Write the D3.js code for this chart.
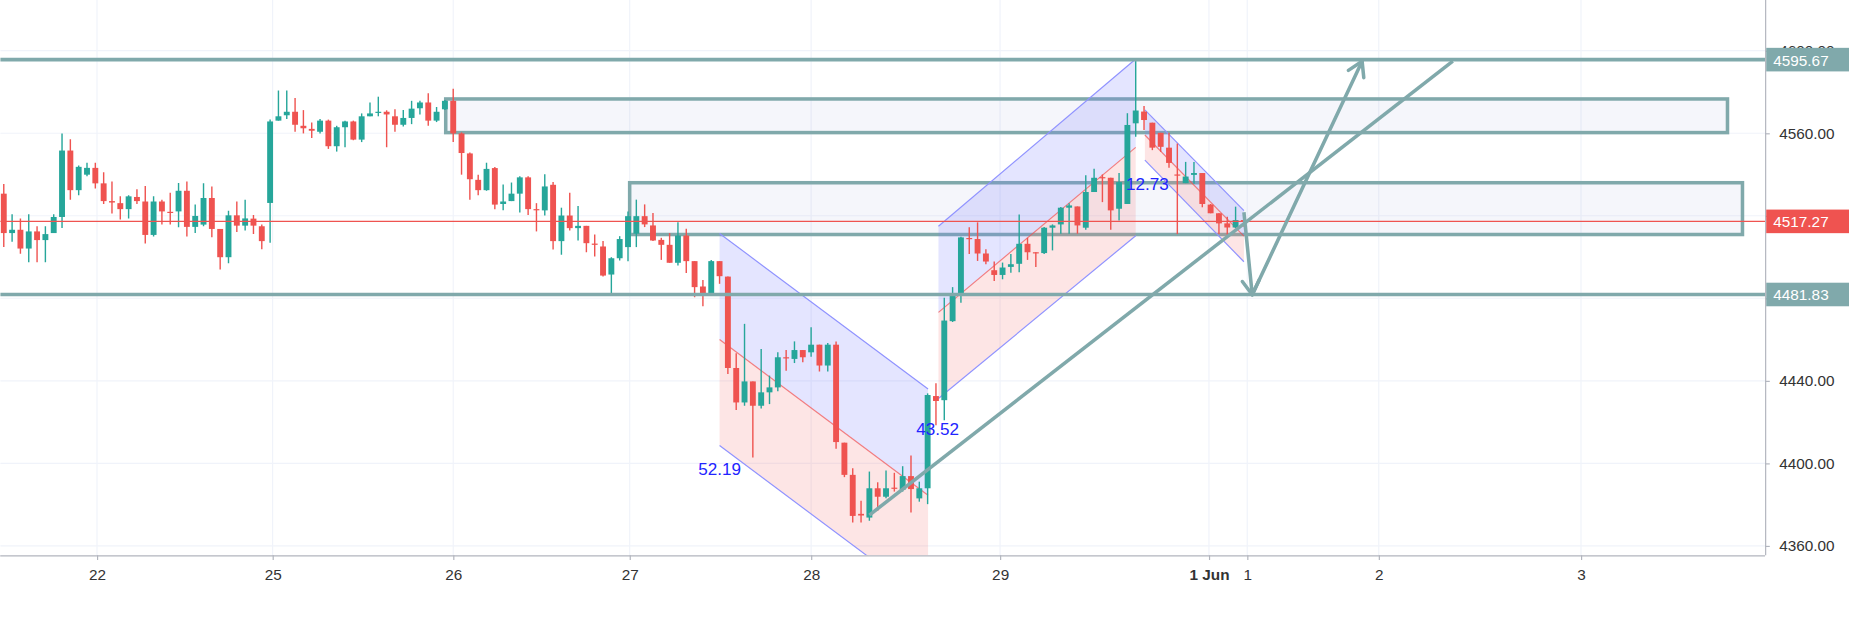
<!DOCTYPE html>
<html><head><meta charset="utf-8">
<script src="https://cdn.jsdelivr.net/npm/d3@7/dist/d3.min.js"></script>
<style>body{margin:0;background:#fff}svg{display:block}</style></head>
<body><svg id="c"></svg>
<script>
// Hourly candles [open, high, low, close]
const candles = [
[4530.7,4535.4,4504.9,4511.6],[4511.6,4520.7,4507.4,4513.2],[4513.2,4518.7,4501.6,4504.1],[4504.1,4520.7,4497.4,4512.4],
[4512.4,4514.9,4497.4,4508.2],[4508.2,4514.9,4497.4,4511.1],[4511.6,4520.7,4511.6,4519.4],[4519.4,4559.9,4514.1,4551.6],
[4551.6,4557.1,4527.7,4532.4],[4532.4,4544.4,4529.9,4543.7],[4539.9,4545.7,4539.1,4543.2],[4543.2,4545.7,4533.2,4535.7],
[4535.7,4541.1,4525.7,4527.1],[4527.1,4536.6,4521.1,4526.4],[4526.1,4529.4,4518.2,4523.2],[4523.2,4529.9,4518.7,4529.4],
[4529.1,4532.9,4525.7,4527.1],[4526.9,4534.4,4506.6,4510.7],[4510.7,4529.4,4509.9,4526.9],[4526.9,4527.7,4515.7,4522.1],
[4521.9,4531.2,4515.7,4521.6],[4522.1,4535.9,4514.4,4532.1],[4532.1,4536.6,4509.9,4514.6],[4514.6,4525.4,4511.6,4519.9],
[4515.7,4535.7,4514.9,4528.6],[4528.6,4534.2,4509.6,4513.6],[4513.6,4513.6,4494.0,4499.9],[4499.9,4522.4,4497.0,4520.2],
[4520.2,4526.9,4512.1,4515.2],[4515.2,4527.7,4512.9,4518.7],[4518.6,4520.4,4511.2,4515.2],[4514.9,4515.7,4503.7,4507.7],
[4526.2,4566.6,4506.9,4565.7],[4566.1,4580.7,4566.1,4568.2],[4568.7,4580.7,4566.9,4570.4],[4570.4,4577.1,4560.7,4564.1],
[4563.6,4571.2,4559.9,4562.4],[4562.1,4565.2,4557.7,4561.2],[4560.7,4566.9,4559.9,4566.1],[4566.1,4566.6,4552.4,4553.7],
[4553.7,4563.6,4551.1,4562.9],[4562.9,4566.1,4553.2,4565.7],[4565.7,4566.1,4556.6,4556.9],[4556.9,4569.6,4555.7,4568.2],
[4568.2,4574.9,4568.2,4569.6],[4570.0,4577.7,4568.2,4570.4],[4570.4,4571.1,4553.2,4569.1],[4568.2,4571.6,4560.7,4564.1],
[4564.1,4571.2,4563.2,4567.4],[4567.4,4575.7,4564.4,4571.9],[4572.1,4575.7,4569.1,4574.9],[4574.9,4579.4,4563.6,4566.1],
[4566.1,4572.7,4565.4,4570.4],[4571.6,4576.1,4571.2,4575.7],[4575.7,4581.6,4555.7,4559.9],[4559.9,4560.4,4539.9,4550.4],
[4550.2,4550.7,4527.7,4537.7],[4537.4,4539.9,4529.9,4532.4],[4532.4,4545.7,4532.1,4542.7],[4543.1,4543.6,4523.2,4525.4],
[4525.7,4535.2,4522.7,4526.9],[4527.1,4536.1,4527.1,4530.7],[4530.7,4539.1,4521.6,4538.6],[4538.6,4539.1,4520.4,4523.2],
[4523.2,4526.1,4512.4,4522.7],[4522.6,4540.1,4520.1,4534.2],[4535.0,4536.3,4503.6,4507.7],[4507.7,4523.9,4501.1,4520.1],
[4520.1,4531.1,4512.9,4514.0],[4514.0,4524.7,4508.0,4515.1],[4515.1,4515.1,4502.3,4506.7],[4506.5,4510.9,4500.2,4505.9],
[4505.1,4507.7,4490.5,4491.0],[4491.5,4499.9,4482.1,4499.4],[4499.4,4510.1,4498.3,4508.7],[4504.8,4522.0,4498.0,4519.8],
[4511.3,4527.8,4504.8,4519.8],[4519.8,4525.5,4514.5,4515.8],[4515.3,4521.3,4507.7,4508.0],[4508.3,4509.3,4498.6,4505.9],
[4505.9,4511.6,4497.2,4497.2],[4497.2,4516.9,4495.9,4510.4],[4510.4,4513.7,4492.2,4498.0],[4498.0,4498.0,4480.5,4485.4],
[4485.7,4488.9,4476.1,4482.4],[4482.4,4498.6,4482.4,4498.0],[4498.0,4498.0,4487.0,4490.7],[4490.5,4490.5,4443.3,4446.2],
[4446.2,4453.3,4425.8,4429.5],[4429.5,4467.6,4427.9,4439.7],[4439.7,4439.7,4402.8,4427.9],[4427.9,4455.4,4426.6,4434.4],
[4434.4,4442.5,4428.7,4436.8],[4436.8,4453.8,4434.9,4451.4],[4451.4,4454.9,4444.9,4451.0],[4450.6,4459.1,4448.6,4454.9],
[4454.9,4454.9,4449.0,4451.4],[4453.8,4465.9,4451.7,4457.5],[4457.5,4457.5,4444.5,4447.4],[4447.4,4458.3,4444.5,4457.5],
[4457.5,4459.1,4407.1,4410.3],[4410.0,4410.0,4393.3,4394.4],[4394.4,4397.6,4371.3,4374.5],[4375.5,4381.9,4371.3,4374.7],
[4373.7,4396.0,4372.1,4387.9],[4387.9,4390.8,4377.0,4383.8],[4383.8,4396.5,4383.1,4387.9],[4388.2,4395.4,4386.3,4387.9],
[4387.2,4398.6,4386.3,4393.8],[4393.8,4403.8,4376.2,4387.5],[4383.0,4391.1,4381.4,4387.9],[4387.9,4433.9,4380.2,4433.1],
[4432.6,4438.8,4418.5,4430.2],[4430.6,4480.3,4420.9,4469.2],[4468.9,4485.4,4468.5,4481.1],[4481.1,4509.8,4477.8,4509.5],
[4509.2,4514.4,4501.4,4508.7],[4508.7,4516.8,4498.1,4501.7],[4501.7,4503.8,4496.5,4497.8],[4493.6,4497.8,4488.4,4491.3],
[4491.3,4497.3,4489.2,4494.9],[4495.2,4501.4,4492.4,4496.5],[4496.7,4520.6,4492.6,4506.4],[4506.4,4509.3,4498.6,4502.3],
[4502.3,4502.3,4495.1,4501.9],[4501.9,4514.5,4501.5,4514.2],[4514.2,4515.8,4503.2,4515.3],[4515.8,4524.2,4511.3,4523.9],
[4523.9,4526.1,4511.3,4525.0],[4524.5,4524.5,4511.3,4515.3],[4514.2,4539.6,4513.2,4531.5],[4531.5,4542.8,4531.5,4538.4],
[4538.7,4540.0,4526.6,4538.2],[4538.4,4538.4,4513.2,4522.6],[4523.4,4540.7,4517.7,4536.3],[4525.7,4569.7,4525.7,4564.0],
[4564.8,4595.7,4558.3,4571.0],[4570.5,4573.2,4561.5,4566.4],[4565.1,4565.1,4551.8,4553.0],[4560.2,4560.2,4551.0,4553.4],
[4553.0,4560.2,4543.3,4545.6],[4540.0,4555.0,4511.1,4539.5],[4535.8,4546.1,4535.8,4539.0],[4539.8,4546.1,4535.5,4540.7],
[4540.7,4540.7,4524.1,4525.7],[4525.4,4525.7,4521.2,4521.2],[4521.2,4521.2,4511.1,4516.3],[4516.3,4519.5,4510.8,4514.3],
[4514.3,4524.4,4514.0,4517.9],[4517.9,4519.5,4514.7,4517.27]];

const xTickLabels = ["22","25","26","27","28","29","1 Jun","1","2","3"];
const xTickBars   = [11.2, 32.3, 54.0, 75.2, 97.0, 119.7, 144.8, 149.4, 165.2, 189.5];
const yTicks = [4360, 4400, 4440, 4480, 4520, 4560, 4600];
const levelLines = [4595.67, 4481.83];
const lastPrice = 4517.27;
// rectangles: [barStart, barEnd, priceTop, priceBottom]
const boxes = [[53.1, 207.1, 4576.6, 4560.3],[75.2, 208.9, 4536.0, 4510.9]];
// parallel channels: [bar0, bar1, upper0, upper1, lower0, lower1, label, labelBar, labelPrice]
const channels = [
  [86.0, 111.05, 4511.4, 4436.0, 4408.6, 4333.1, "52.19", 86.0, 4394.5],
  [112.3, 136.0, 4514.9, 4596.0, 4431.4, 4510.3, "43.52", 112.2, 4413.5],
  [137.1, 149.0, 4571.3, 4522.5, 4547.0, 4497.7, "12.73", 137.4, 4532.3]
];
const trendLine = [[104.0, 4374.9],[174.1, 4594.9]];
const arrowPath = [[149.0, 4521.7],[150.0, 4481.7],[163.2, 4594.9]];

const W=1568,H=531, PR=1497, PB=471;
const svg=d3.select("#c").attr("width",1849).attr("height",626).attr("viewBox",`0 0 ${W} ${H}`);
const x=d3.scaleLinear().domain([0,1]).range([3,10.06]);
const y=d3.scaleLinear().domain([4560,4440]).range([113,323]);
const font="'Liberation Sans', Arial, sans-serif";
const teal="#80a9ab";

svg.append("defs").append("clipPath").attr("id","pc").append("rect").attr("x",0).attr("y",0).attr("width",PR).attr("height",PB);
const g=svg.append("g").attr("clip-path","url(#pc)");

g.selectAll(".vg").data(xTickBars).join("line").attr("x1",d=>x(d)).attr("x2",d=>x(d)).attr("y1",0).attr("y2",PB).attr("stroke","#f0f3fa");
g.selectAll(".hg").data(yTicks).join("line").attr("x1",0).attr("x2",PR).attr("y1",d=>y(d)).attr("y2",d=>y(d)).attr("stroke","#f0f3fa");

boxes.forEach(b=>{
  g.append("rect").attr("x",x(b[0])).attr("y",y(b[2])).attr("width",x(b[1])-x(b[0])).attr("height",y(b[3])-y(b[2]))
   .attr("fill","rgba(149,152,210,0.09)").attr("stroke",teal).attr("stroke-width",3);
});

channels.forEach(c=>{
  const [b0,b1,u0,u1,l0,l1]=c; const m0=(u0+l0)/2, m1=(u1+l1)/2;
  const poly=(pts)=>pts.map(p=>[x(p[0]),y(p[1])].join(",")).join(" ");
  g.append("polygon").attr("points",poly([[b0,u0],[b1,u1],[b1,m1],[b0,m0]])).attr("fill","rgba(120,123,255,0.2)");
  g.append("polygon").attr("points",poly([[b0,m0],[b1,m1],[b1,l1],[b0,l0]])).attr("fill","rgba(245,124,124,0.2)");
  [[u0,u1,"#8f92ff"],[l0,l1,"#8f92ff"],[m0,m1,"rgba(242,80,80,0.7)"]].forEach(L=>{
    g.append("line").attr("x1",x(b0)).attr("x2",x(b1)).attr("y1",y(L[0])).attr("y2",y(L[1])).attr("stroke",L[2]).attr("stroke-width",1);
  });
});

const cw=5;
const cg=g.selectAll(".cd").data(candles).join("g");
cg.append("line").attr("x1",(d,i)=>x(i)).attr("x2",(d,i)=>x(i)).attr("y1",d=>y(d[1])).attr("y2",d=>y(d[2]))
  .attr("stroke",d=>d[3]>=d[0]?"#26a69a":"#ef5350").attr("stroke-width",1.2);
cg.append("rect").attr("x",(d,i)=>x(i)-cw/2).attr("width",cw)
  .attr("y",d=>y(Math.max(d[0],d[3]))).attr("height",d=>Math.max(1,Math.abs(y(d[0])-y(d[3]))))
  .attr("fill",d=>d[3]>=d[0]?"#26a69a":"#ef5350");

channels.forEach(c=>{
  g.append("text").attr("x",x(c[7])).attr("y",y(c[8])).attr("text-anchor","middle").attr("fill","#2224ff")
   .attr("font-family",font).attr("font-size",14.5).text(c[6]);
});

levelLines.forEach(v=>g.append("line").attr("x1",0).attr("x2",PR).attr("y1",y(v)).attr("y2",y(v)).attr("stroke",teal).attr("stroke-width",3));
g.append("line").attr("x1",0).attr("x2",PR).attr("y1",y(lastPrice)).attr("y2",y(lastPrice)).attr("stroke","#ef5350").attr("stroke-width",1);

g.append("line").attr("x1",x(trendLine[0][0])).attr("y1",y(trendLine[0][1])).attr("x2",x(trendLine[1][0])).attr("y2",y(trendLine[1][1]))
  .attr("stroke",teal).attr("stroke-width",3);
g.append("path").attr("d",d3.line().x(d=>x(d[0])).y(d=>y(d[1]))(arrowPath)).attr("fill","none").attr("stroke",teal).attr("stroke-width",3).attr("stroke-linejoin","round");
function head(p,q){const px=x(p[0]),py=y(p[1]),qx=x(q[0]),qy=y(q[1]);const a=Math.atan2(qy-py,qx-px);const L=14;
  [a+2.6,a-2.6].forEach(t=>g.append("line").attr("x1",qx).attr("y1",qy).attr("x2",qx+L*Math.cos(t)).attr("y2",qy+L*Math.sin(t))
   .attr("stroke",teal).attr("stroke-width",3).attr("stroke-linecap","round"));}
head(arrowPath[0],arrowPath[1]); head(arrowPath[1],arrowPath[2]);

svg.append("line").attr("x1",PR+0.5).attr("x2",PR+0.5).attr("y1",0).attr("y2",PB).attr("stroke","#b2b5be");
svg.append("line").attr("x1",0).attr("x2",PR).attr("y1",PB+0.5).attr("y2",PB+0.5).attr("stroke","#b2b5be");
const ya=svg.append("g").attr("transform",`translate(${PR},0)`).call(d3.axisRight(y).tickValues(yTicks).tickSize(4).tickFormat(d3.format(".2f")));
ya.select(".domain").remove();
ya.selectAll("text").attr("font-family",font).attr("font-size",13).attr("fill","#333").attr("x",12);
ya.selectAll("line").attr("stroke","#b2b5be");
const xa=svg.append("g").attr("transform",`translate(0,${PB})`).call(d3.axisBottom(x).tickValues(xTickBars).tickSize(4).tickFormat((d,i)=>xTickLabels[i]));
xa.select(".domain").remove();
xa.selectAll("text").attr("font-family",font).attr("font-size",13).attr("fill","#333").attr("dy","1.1em")
  .attr("font-weight",(d,i)=>xTickLabels[i]==="1 Jun"?"bold":"normal");
xa.selectAll("line").attr("stroke","#b2b5be");

const tags=[[levelLines[0],teal],[levelLines[1],teal],[lastPrice,"#ef5350"]];
tags.forEach(t=>{
  svg.append("rect").attr("x",PR+1).attr("y",y(t[0])-10).attr("width",W-PR).attr("height",20).attr("fill",t[1]);
  svg.append("text").attr("x",PR+7).attr("y",y(t[0])+5).attr("fill","#fff").attr("font-family",font).attr("font-size",13).text(t[0].toFixed(2));
});
</script></body></html>
